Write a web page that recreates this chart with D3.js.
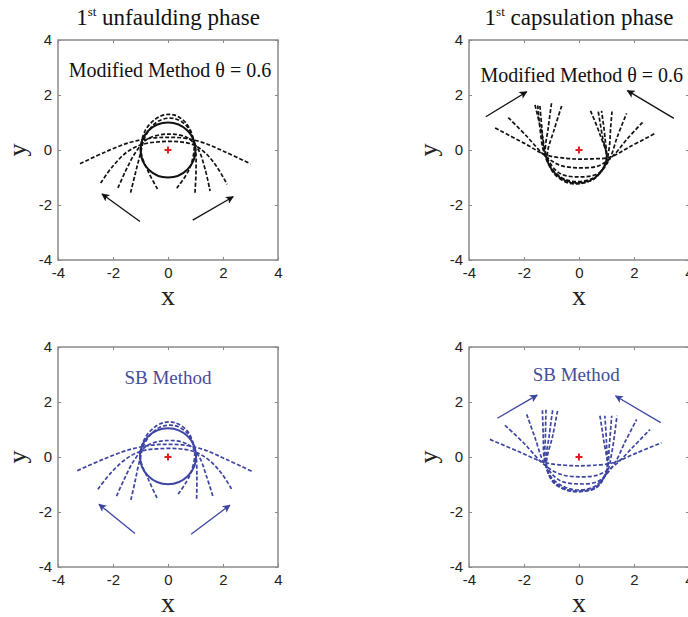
<!DOCTYPE html>
<html>
<head>
<meta charset="utf-8">
<script src="https://cdn.jsdelivr.net/npm/d3@7.9.0/dist/d3.min.js"></script>
<style>
  body { margin: 0; background: #fff; }
  svg { display: block; }
  .tick-label { font-family: Arial, "Liberation Sans", sans-serif; font-size: 15px; fill: #222; }
  .serif { font-family: "Times New Roman", "Liberation Serif", serif; }
</style>
</head>
<body>
<svg id="chart" width="688" height="617"></svg>
<script>
const tickValues = [-4, -2, 0, 2, 4];

// 1st unfaulding phase, modified method
const unfoldModifiedCircle = [0, 0, 1.0];
const unfoldModifiedCurves = [
  [[-3.2,-0.5],[-2.3,-0.08],[-1.4,0.27],[-0.6,0.43],[0,0.46],[0.6,0.43],[1.3,0.26],[2.1,-0.08],[3.0,-0.5]],
  [[-2.45,-1.2],[-2.0,-0.58],[-1.5,-0.08],[-0.95,0.2],[-0.3,0.3],[0.4,0.3],[0.95,0.18],[1.4,-0.15],[1.8,-0.65],[2.15,-1.25]],
  [[-1.82,-1.38],[-1.55,-0.78],[-1.2,-0.12],[-0.75,0.4],[0,0.58],[0.7,0.45],[1.1,0.02],[1.35,-0.7],[1.53,-1.49]],
  [[-1.36,-1.55],[-1.2,-0.9],[-1.02,-0.2],[-0.8,0.55],[-0.35,1.05],[0.2,1.15],[0.7,0.85],[0.98,0.15],[1.02,-0.7],[0.98,-1.56]],
  [[-0.38,-1.42],[-0.72,-0.78],[-0.98,-0.05],[-0.82,0.72],[-0.3,1.22],[0.2,1.28],[0.68,0.95],[0.95,0.2],[0.78,-0.68],[0.32,-1.39]]
];
const unfoldModifiedArrows = [
  [[-1.02,-2.6],[-2.4,-1.6]],
  [[0.9,-2.55],[2.37,-1.7]]
];

// 1st capsulation phase, modified method
const capsModifiedCurves = [
  [[-3.05,0.8],[-2.0,0.25],[-1.2,-0.18],[-0.5,-0.3],[0,-0.33],[0.5,-0.32],[1.1,-0.27],[1.85,0.12],[2.8,0.62]],
  [[-2.57,1.18],[-1.9,0.5],[-1.25,-0.2],[-0.7,-0.55],[0,-0.65],[0.7,-0.58],[1.2,-0.25],[1.75,0.4],[2.35,1.05]],
  [[-1.6,1.64],[-1.35,0.6],[-1.15,-0.3],[-0.7,-0.85],[0,-0.98],[0.7,-0.85],[1.1,-0.35],[1.4,0.5],[1.73,1.33]],
  [[-1.5,1.62],[-1.42,0.8],[-1.3,0.0],[-1.05,-0.6],[-0.55,-1.05],[0,-1.15],[0.55,-1.0],[0.95,-0.55],[1.1,0.1],[1.15,0.8],[1.2,1.4]],
  [[-1.42,1.6],[-1.35,0.8],[-1.25,-0.1],[-0.95,-0.75],[-0.45,-1.12],[0.1,-1.18],[0.65,-0.95],[1.0,-0.35],[0.85,0.5],[0.7,1.4]],
  [[-1.0,1.7],[-1.12,0.8],[-1.22,-0.1],[-1.0,-0.7],[-0.5,-1.12],[0,-1.2],[0.55,-1.05],[0.98,-0.45],[0.95,0.4],[0.82,1.42]],
  [[-0.63,1.6],[-0.9,0.75],[-1.15,-0.2],[-0.95,-0.8],[-0.45,-1.18],[0.05,-1.22],[0.6,-1.0],[1.0,-0.35],[0.75,0.6],[0.42,1.42]]
];
const capsModifiedArrows = [
  [[-3.39,1.21],[-1.9,2.12]],
  [[3.45,1.15],[1.76,2.16]]
];

// SB method, unfaulding
const unfoldSBCircle = [0, 0.03, 1.02];
const unfoldSBCurves = [
  [[-3.3,-0.5],[-2.35,-0.08],[-1.4,0.27],[-0.6,0.43],[0,0.46],[0.6,0.43],[1.35,0.25],[2.15,-0.1],[3.05,-0.52]],
  [[-2.55,-1.17],[-2.05,-0.55],[-1.5,-0.05],[-0.95,0.22],[-0.3,0.3],[0.4,0.3],[1.0,0.18],[1.5,-0.12],[1.95,-0.6],[2.31,-1.16]],
  [[-1.87,-1.42],[-1.58,-0.78],[-1.22,-0.1],[-0.75,0.42],[0,0.6],[0.7,0.47],[1.12,0.03],[1.4,-0.7],[1.65,-1.49]],
  [[-1.35,-1.56],[-1.2,-0.9],[-1.05,-0.2],[-0.82,0.55],[-0.35,1.05],[0.2,1.15],[0.72,0.85],[1.0,0.15],[1.05,-0.7],[1.04,-1.53]],
  [[-0.4,-1.49],[-0.72,-0.8],[-1.0,-0.05],[-0.82,0.72],[-0.3,1.2],[0.2,1.26],[0.7,0.95],[0.97,0.2],[0.8,-0.65],[0.37,-1.35]]
];
const unfoldSBArrows = [
  [[-1.2,-2.78],[-2.51,-1.72]],
  [[0.84,-2.81],[2.25,-1.75]]
];

// SB method, capsulation
const capsSBCurves = [
  [[-3.24,0.64],[-2.2,0.2],[-1.25,-0.2],[-0.5,-0.3],[0,-0.32],[0.5,-0.3],[1.2,-0.22],[2.1,0.15],[3.0,0.52]],
  [[-2.69,1.15],[-2.0,0.5],[-1.3,-0.25],[-0.7,-0.62],[0,-0.72],[0.7,-0.65],[1.3,-0.3],[1.95,0.35],[2.58,1.0]],
  [[-1.9,1.55],[-1.6,0.7],[-1.25,-0.25],[-0.7,-0.85],[0,-0.98],[0.7,-0.88],[1.25,-0.3],[1.7,0.6],[2.1,1.37]],
  [[-1.33,1.7],[-1.3,0.8],[-1.25,-0.15],[-1.0,-0.75],[-0.5,-1.1],[0,-1.2],[0.55,-1.08],[1.0,-0.6],[1.2,0.2],[1.38,1.5]],
  [[-1.2,1.72],[-1.22,0.8],[-1.22,-0.2],[-0.95,-0.85],[-0.45,-1.18],[0.05,-1.24],[0.6,-1.1],[1.0,-0.55],[1.1,0.4],[1.19,1.5]],
  [[-0.96,1.7],[-1.08,0.8],[-1.2,-0.25],[-0.95,-0.9],[-0.45,-1.2],[0.05,-1.25],[0.6,-1.12],[1.0,-0.5],[1.0,0.5],[0.94,1.5]],
  [[-0.78,1.68],[-0.95,0.8],[-1.18,-0.3],[-0.9,-0.95],[-0.4,-1.22],[0.1,-1.25],[0.65,-1.1],[1.02,-0.45],[0.9,0.6],[0.76,1.5]]
];
const capsSBArrows = [
  [[-2.97,1.41],[-1.52,2.25]],
  [[2.97,1.25],[1.33,2.22]]
];

const black = '#111';
const blue = '#3d45a3';

const panels = [
  { left: 58,  top: 40,  color: black, curves: unfoldModifiedCurves, circle: unfoldModifiedCircle,
    arrows: unfoldModifiedArrows, label: 'Modified Method θ = 0.6', labelAt: [0.07, 2.9], labelSize: 20,
    title: 'unfaulding phase', labelColor: '#111' },
  { left: 469, top: 40,  color: black, curves: capsModifiedCurves, circle: null,
    arrows: capsModifiedArrows, label: 'Modified Method θ = 0.6', labelAt: [0.1, 2.72], labelSize: 20,
    title: 'capsulation phase', labelColor: '#111' },
  { left: 58,  top: 347, color: blue, curves: unfoldSBCurves, circle: unfoldSBCircle,
    arrows: unfoldSBArrows, label: 'SB Method', labelAt: [0, 2.88], labelSize: 19, title: null, labelColor: '#454c9c' },
  { left: 469, top: 347, color: blue, curves: capsSBCurves, circle: null,
    arrows: capsSBArrows, label: 'SB Method', labelAt: [-0.1, 3.0], labelSize: 19, title: null, labelColor: '#454c9c' }
];

const size = 220;
const svg = d3.select('#chart');
const defs = svg.append('defs');

[['head-black', black], ['head-blue', blue]].forEach(([id, c]) => {
  defs.append('marker')
    .attr('id', id)
    .attr('viewBox', '0 0 10 10')
    .attr('refX', 9).attr('refY', 5)
    .attr('markerWidth', 11).attr('markerHeight', 8)
    .attr('markerUnits', 'userSpaceOnUse')
    .attr('orient', 'auto')
    .append('path')
    .attr('d', 'M0,0 L10,5 L0,10 L2.5,5 Z')
    .attr('fill', c);
});

panels.forEach((p) => {
  const g = svg.append('g').attr('transform', `translate(${p.left},${p.top})`);
  const x = d3.scaleLinear().domain([-4, 4]).range([0, size]);
  const y = d3.scaleLinear().domain([-4, 4]).range([size, 0]);

  // axes with inward ticks, MATLAB style (plain hyphen for negatives)
  const tickIn = 3;
  const fmt = (d) => String(d);
  g.append('g').attr('transform', `translate(0,${size})`)
    .call(d3.axisBottom(x).tickValues(tickValues).tickFormat(fmt).tickSizeInner(-tickIn).tickSizeOuter(0).tickPadding(7));
  g.append('g')
    .call(d3.axisLeft(y).tickValues(tickValues).tickFormat(fmt).tickSizeInner(-tickIn).tickSizeOuter(0).tickPadding(6));
  g.append('g')
    .call(d3.axisTop(x).tickValues(tickValues).tickSizeInner(-tickIn).tickSizeOuter(0).tickFormat(() => ''));
  g.append('g').attr('transform', `translate(${size},0)`)
    .call(d3.axisRight(y).tickValues(tickValues).tickSizeInner(-tickIn).tickSizeOuter(0).tickFormat(() => ''));
  g.selectAll('.domain').remove();
  g.selectAll('.tick line').attr('stroke', '#888');
  g.selectAll('.tick text')
    .attr('class', 'tick-label')
    .attr('font-size', null)
    .attr('font-family', null)
    .attr('fill', null);

  g.append('rect')
    .attr('width', size).attr('height', size)
    .attr('fill', 'none')
    .attr('stroke', '#8a8a8a')
    .attr('stroke-width', 1.5);

  const line = d3.line()
    .x((d) => x(d[0]))
    .y((d) => y(d[1]))
    .curve(d3.curveCatmullRom.alpha(0.5));

  const plot = g.append('g');

  if (p.circle) {
    plot.append('circle')
      .attr('cx', x(p.circle[0]))
      .attr('cy', y(p.circle[1]))
      .attr('r', x(p.circle[2]) - x(0))
      .attr('fill', 'none')
      .attr('stroke', p.color)
      .attr('stroke-width', 2);
  }

  plot.selectAll('path.curve')
    .data(p.curves)
    .join('path')
    .attr('class', 'curve')
    .attr('d', line)
    .attr('fill', 'none')
    .attr('stroke', p.color)
    .attr('stroke-width', 1.7)
    .attr('stroke-dasharray', '4,2');

  const headId = p.color === blue ? 'head-blue' : 'head-black';
  plot.selectAll('line.arrow')
    .data(p.arrows)
    .join('line')
    .attr('class', 'arrow')
    .attr('x1', (d) => x(d[0][0]))
    .attr('y1', (d) => y(d[0][1]))
    .attr('x2', (d) => x(d[1][0]))
    .attr('y2', (d) => y(d[1][1]))
    .attr('stroke', p.color)
    .attr('stroke-width', 1.3)
    .attr('marker-end', `url(#${headId})`);

  // red origin marker
  const plus = plot.append('g').attr('transform', `translate(${x(0)},${y(0)})`)
    .attr('stroke', '#e02020').attr('stroke-width', 2);
  plus.append('line').attr('x1', -3.5).attr('x2', 3.5);
  plus.append('line').attr('y1', -3.5).attr('y2', 3.5);

  g.append('text')
    .attr('class', 'serif')
    .attr('x', x(p.labelAt[0]))
    .attr('y', y(p.labelAt[1]))
    .attr('dy', '0.35em')
    .attr('text-anchor', 'middle')
    .attr('font-size', p.labelSize)
    .attr('fill', p.labelColor)
    .text(p.label);

  // axis labels
  g.append('text')
    .attr('class', 'serif')
    .attr('x', size / 2)
    .attr('y', size + 45)
    .attr('text-anchor', 'middle')
    .attr('font-size', 28)
    .attr('fill', '#222')
    .text('x');
  g.append('text')
    .attr('class', 'serif')
    .attr('transform', `translate(-32,${size / 2}) rotate(-90)`)
    .attr('text-anchor', 'middle')
    .attr('font-size', 26)
    .attr('fill', '#222')
    .text('y');

  if (p.title) {
    const t = g.append('text')
      .attr('class', 'serif')
      .attr('x', size / 2)
      .attr('y', -15)
      .attr('text-anchor', 'middle')
      .attr('font-size', 23)
      .attr('fill', '#111');
    t.append('tspan').text('1');
    t.append('tspan').attr('font-size', 13).attr('dy', -9).text('st');
    t.append('tspan').attr('dy', 9).text(' ' + p.title);
  }
});
</script>
</body>
</html>
